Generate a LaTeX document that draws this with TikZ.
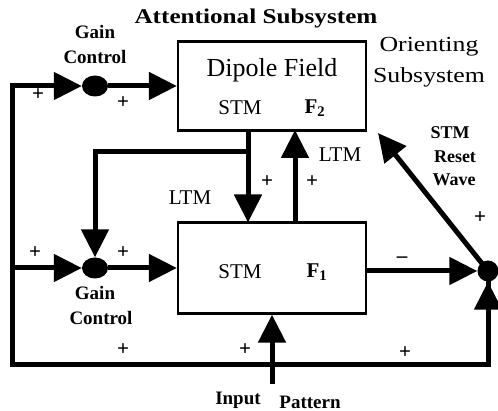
\documentclass[tikz,border=0pt]{standalone}
\usepackage{fontspec}
\setmainfont{Liberation Serif}
\usetikzlibrary{arrows.meta,shapes.geometric}
\newcommand{\widetext}[1]{\scalebox{1.2}[1]{#1}}
\begin{document}
\begin{tikzpicture}[x=1pt,y=-1pt,
  box/.style={draw, line width=2.3pt, minimum width=188pt, minimum height=89pt, inner sep=0pt},
  gdot/.style={ellipse, fill=black, minimum width=26pt, minimum height=21pt, inner sep=0pt},
  odot/.style={circle, fill=black, minimum size=21pt, inner sep=0pt},
  wire/.style={line width=5pt, line cap=rect},
  arr/.style={line width=5pt, -{Triangle[length=28pt,width=27pt]}},
  lbl/.style={font=\fontsize{21}{23}\selectfont, inner sep=0pt},
  blbl/.style={font=\bfseries\fontsize{19}{21}\selectfont, inner sep=0pt},
  rlbl/.style={font=\bfseries\fontsize{18}{20}\selectfont, inner sep=0pt},
  pl/.style={font=\bfseries\fontsize{21}{23}\selectfont, inner sep=0pt}]
\useasboundingbox (0,0) rectangle (498,411);

% boxes and dots
\node[box] (f2) at (272,86) {};
\node[box, minimum height=91pt] (f1) at (272,268) {};
\node[gdot] (gc1) at (95,86) {};
\node[gdot] (gc2) at (95,268) {};
\node[odot] (od) at (488,271) {};

% coordinates
\coordinate (tl) at (12,86);
\coordinate (ml) at (12,268);
\coordinate (bl) at (12,365);
\coordinate (br) at (488,365);
\coordinate (d1) at (248,130);
\coordinate (d2) at (248,222.5);
\coordinate (jb) at (248,152);
\coordinate (bj) at (95,152);
\coordinate (u1) at (295,222.5);
\coordinate (u2) at (295,130);
\coordinate (rt) at (378,133);
\coordinate (ip) at (272,384);

% wires
\draw[wire] (tl) -- (bl) -- (br) -- (od.south);
\draw[arr] (br) -- (od.south);
\draw[arr] (tl) -- (gc1.west);
\draw[arr] (gc1.east) -- (f2.west |- gc1);
\draw[arr] (ml) -- (gc2.west);
\draw[arr] (gc2.east) -- (f1.west |- gc2);
\draw[arr] (d1) -- (d2);
\draw[wire] (jb) -- (bj);
\draw[arr] (bj) -- (gc2.north);
\draw[arr] (u1) -- (u2);
\draw[arr] (f1.east |- od) -- (od.west);
\draw[arr] (od.center) -- (rt);
\draw[arr] (ip) -- (f1.south);

% texts
\node[font=\bfseries\fontsize{21}{23}\selectfont, inner sep=0pt] (t1) at (256,18) {\widetext{Attentional Subsystem}};
\node[font=\fontsize{21.5}{23}\selectfont, inner sep=0pt] (t2) at (429,47) {\widetext{Orienting}};
\node[font=\fontsize{21.5}{23}\selectfont, inner sep=0pt] (t3) at (429,77) {\widetext{Subsystem}};
\node[blbl] (g1a) at (95,32) {Gain};
\node[blbl] (g1b) at (95,57) {Control};
\node[font=\fontsize{26}{28}\selectfont, inner sep=0pt] (dp) at (272,70) {Dipole Field};
\node[lbl] (s2) at (240,108) {STM};
\node[lbl] (f2l) at (315,108) {\textbf{F\textsubscript{2}}};
\node[lbl] (lt1) at (340,155) {LTM};
\node[lbl] (lt2) at (190,198) {LTM};
\node[lbl] (s1) at (240,272) {STM};
\node[lbl] (f1l) at (317,272) {\textbf{F\textsubscript{1}}};
\node[blbl] (g2a) at (95,293) {Gain};
\node[blbl] (g2b) at (101,318) {Control};
\node[rlbl] (r1) at (450,133) {STM};
\node[rlbl] (r2) at (455,157) {Reset};
\node[rlbl] (r3) at (454,180) {Wave};
\node[blbl] (in1) at (238,400) {Input};
\node[blbl] (in2) at (310,402) {Pattern};
\node[pl] (m1) at (402,260) {\textendash};
\node[pl] (p1) at (38,95) {+};
\node[pl] (p2) at (123,103) {+};
\node[pl] (p3) at (267,182) {+};
\node[pl] (p4) at (312,182) {+};
\node[pl] (p5) at (35,253) {+};
\node[pl] (p6) at (123,253) {+};
\node[pl] (p7) at (123,350) {+};
\node[pl] (p8) at (245,350) {+};
\node[pl] (p9) at (405,353) {+};
\node[pl] (p10) at (480,218) {+};
\end{tikzpicture}
\end{document}
